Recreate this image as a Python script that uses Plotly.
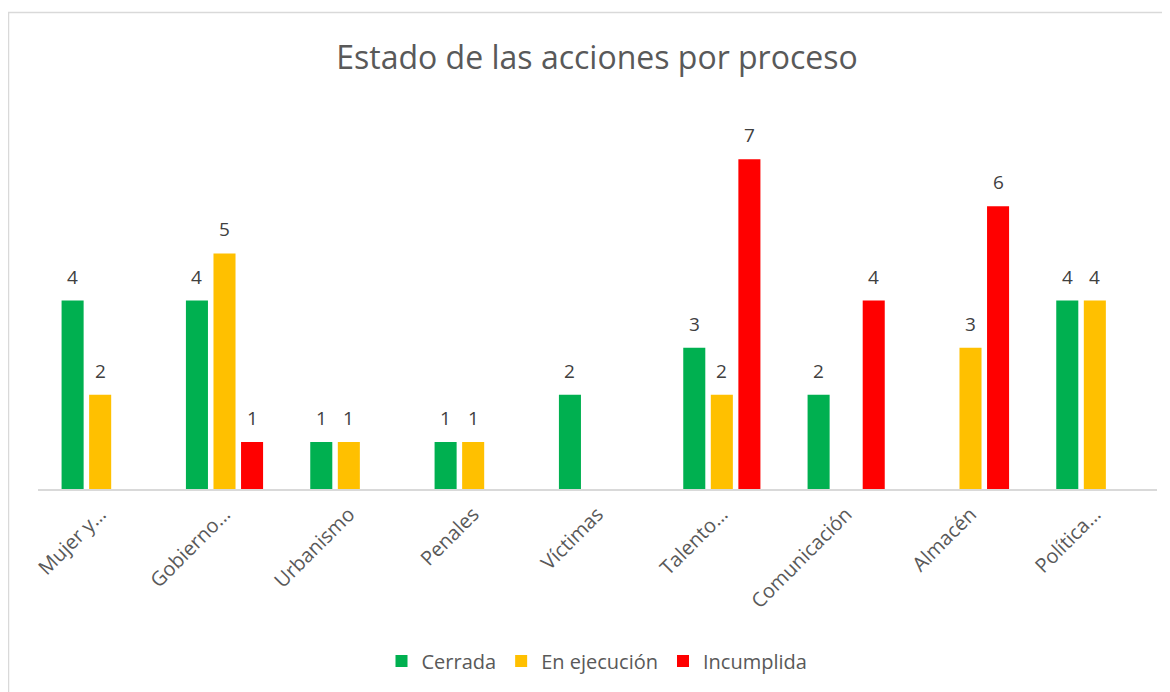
import plotly.graph_objects as go

categories = ["Mujer y…", "Gobierno…", "Urbanismo", "Penales", "Víctimas",
              "Talento…", "Comunicación", "Almacén", "Política…"]
cerrada = [4, 4, 1, 1, 2, 3, 2, None, 4]
en_ejecucion = [2, 5, 1, 1, None, 2, None, 3, 4]
incumplida = [None, 1, None, None, None, 7, 4, 6, None]
series_names = ["Cerrada", "En ejecución", "Incumplida"]
series_colors = ["#00B050", "#FFC000", "#FF0000"]
series_values = [cerrada, en_ejecucion, incumplida]

OFF = 8  # page body margin
W, H = 1170 - OFF, 692 - OFF
L, R, T, B = 38 - OFF, 1170 - 1157, 112 - OFF, 692 - 489
pw = W - L - R
ph = H - T - B

fig = go.Figure()
for name, color, vals in zip(series_names, series_colors, series_values):
    fig.add_trace(go.Bar(x=categories, y=vals, name=name, marker_color=color,
                         marker_line_width=0))

slot = pw / len(categories) * (1 - 0.335) / 3
annotations = []
for i, vals in enumerate(series_values):
    for c, v in zip(categories, vals):
        if v is None:
            continue
        annotations.append(dict(x=c, y=v, xref="x", yref="y", text=str(v),
                                showarrow=False, xshift=(i - 1) * slot,
                                yshift=24, yanchor="middle",
                                font=dict(family="Open Sans", size=19, color="#404040")))

def px_x(p):
    return (p - OFF - L) / pw

def px_y(p):
    return (H - B - (p - OFF)) / ph

fig.update_layout(
    width=W, height=H,
    margin=dict(l=L, r=R, t=T, b=B),
    paper_bgcolor="white", plot_bgcolor="white",
    barmode="group", bargap=0.335, bargroupgap=0.2,
    title=dict(text="Estado de las acciones por proceso", x=px_x(597), xanchor="center",
               y=1 - (58 - OFF) / H, yanchor="middle", xref="paper",
               font=dict(family="Open Sans", size=32, color="#595959")),
    showlegend=True,
    legend=dict(orientation="h", x=px_x(597), xanchor="center", y=px_y(661), yanchor="middle",
                font=dict(family="Open Sans", size=20, color="#595959"),
                itemwidth=30, traceorder="normal"),
    xaxis=dict(tickangle=-45, tickfont=dict(family="Open Sans", size=20, color="#595959"),
               ticklabelstandoff=4,
               showline=True, linecolor="#D9D9D9", linewidth=1.5, ticks="",
               showgrid=False, zeroline=False, fixedrange=True),
    yaxis=dict(range=[0, 8], visible=False, showgrid=False, zeroline=False),
    annotations=annotations,
    shapes=[dict(type="rect", xref="paper", yref="paper",
                 x0=px_x(8.5), x1=px_x(1180), y0=px_y(700), y1=px_y(12.5),
                 line=dict(color="#D9D9D9", width=1.5), fillcolor="rgba(0,0,0,0)",
                 layer="below")],
)

fig.write_html("out.html")
